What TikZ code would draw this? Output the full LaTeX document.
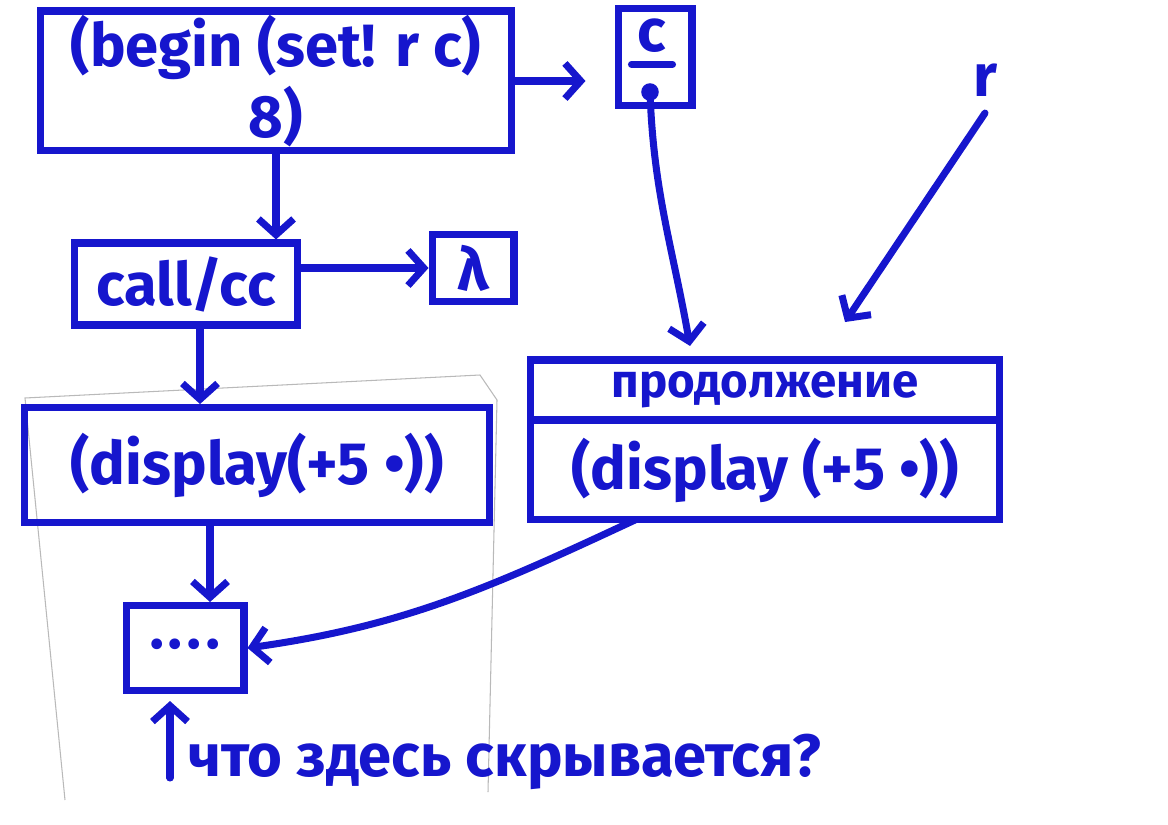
\documentclass[tikz,border=0pt]{standalone}
\usepackage{fontspec}
\setmainfont{Fira Sans}
\usetikzlibrary{positioning}
\usetikzlibrary{arrows.meta}
\definecolor{ink}{RGB}{22,22,205}
\tikzset{
    codebox/.style = {rectangle, draw=ink, line width=4pt, align=center, inner sep=0pt, text=ink, font=\fontsize{34}{40}\selectfont\bfseries},
    smallbox/.style = {codebox, minimum width=1.5cm, minimum height=1.3cm},
    mark label/.style = {text=ink, font=\fontsize{34}{40}\selectfont\bfseries},
    edgen/.style = {-{Straight Barb[length=9pt,width=20pt]}, line width=4pt, ink, line cap=round, line join=round},
    scopeline/.style = {gray!55, line width=0.6pt} % pencil frame
}
\begin{document}
\begin{tikzpicture}[x=0.02cm, y=-0.02cm]
  \useasboundingbox (0,0) rectangle (1168,824);

  % pencil frame round the left column
  \draw[scopeline] (65,800) -- (25,398) -- (480,375) -- (497,400) -- (488,792);

  \node[codebox, minimum width=9.44cm, minimum height=2.8cm] at (276,81) (begin) {(begin (set! r c)\\8)};
  \node[codebox, minimum width=1.48cm, minimum height=1.94cm] at (655,57) (c) {};
  \node[mark label] at (652,36) (cname) {c};
  \draw[ink, line width=4pt, line cap=round] ([yshift=-3pt]cname.south west) -- ([yshift=-3pt]cname.south east);
  \coordinate (cdot) at (650,92);
  \fill[ink] (cdot) circle (5pt);
  \node[mark label] at (985,80) (r) {r};
  \coordinate (rend) at (845,322);

  \node[codebox, minimum width=4.46cm, minimum height=1.64cm] at (186,284) (callcc) {call/cc};
  \node[smallbox, minimum width=1.64cm, minimum height=1.34cm] at (473,268) (lambda) {λ};

  \node[codebox, minimum width=9.3cm, minimum height=2.3cm] at (257,465) (disp) {(display(+5 •))};
  \node[smallbox, minimum width=2.36cm, minimum height=1.7cm, font=\fontsize{22}{26}\selectfont\bfseries] at (185,648) (dots) {•\hspace{3pt}•\hspace{3pt}•\hspace{3pt}•};

  \node[codebox, outer sep=0pt, minimum width=9.4cm, minimum height=1.2cm, font=\fontsize{27}{32}\selectfont\bfseries] at (765,390) (prodhead) {продолжение};
  \node[codebox, outer sep=0pt, minimum width=9.4cm, minimum height=2cm, below=0pt of prodhead] (prod) {(display (+5 •))};

  \node[mark label, anchor=west] at (182,762) (ask) {что здесь скрывается?};
  \coordinate (askfoot) at (170,778);

  \draw[edgen] (begin.east) -- ++(70,0);
  \draw[edgen] (begin.south) -- (callcc.north -| begin.south);
  \draw[edgen] (callcc.east |- lambda.west) -- (lambda.west);
  \draw[edgen] (callcc.south -| 200,0) -- (disp.north -| 200,0);
  \draw[edgen] (disp.south -| 210,0) -- (dots.north -| 210,0);
  \draw[edgen] (cdot) to[out=-88, in=100] ([yshift=8pt]prodhead.north -| 690,0);
  \draw[edgen] ([yshift=-6pt]r.south) -- (rend);
  \draw[edgen] ([xshift=2.1cm]prod.south west) to[out=205, in=8] (dots.east);
  \draw[edgen] (askfoot) -- ([yshift=-4pt]askfoot |- dots.south);
\end{tikzpicture}
\end{document}
